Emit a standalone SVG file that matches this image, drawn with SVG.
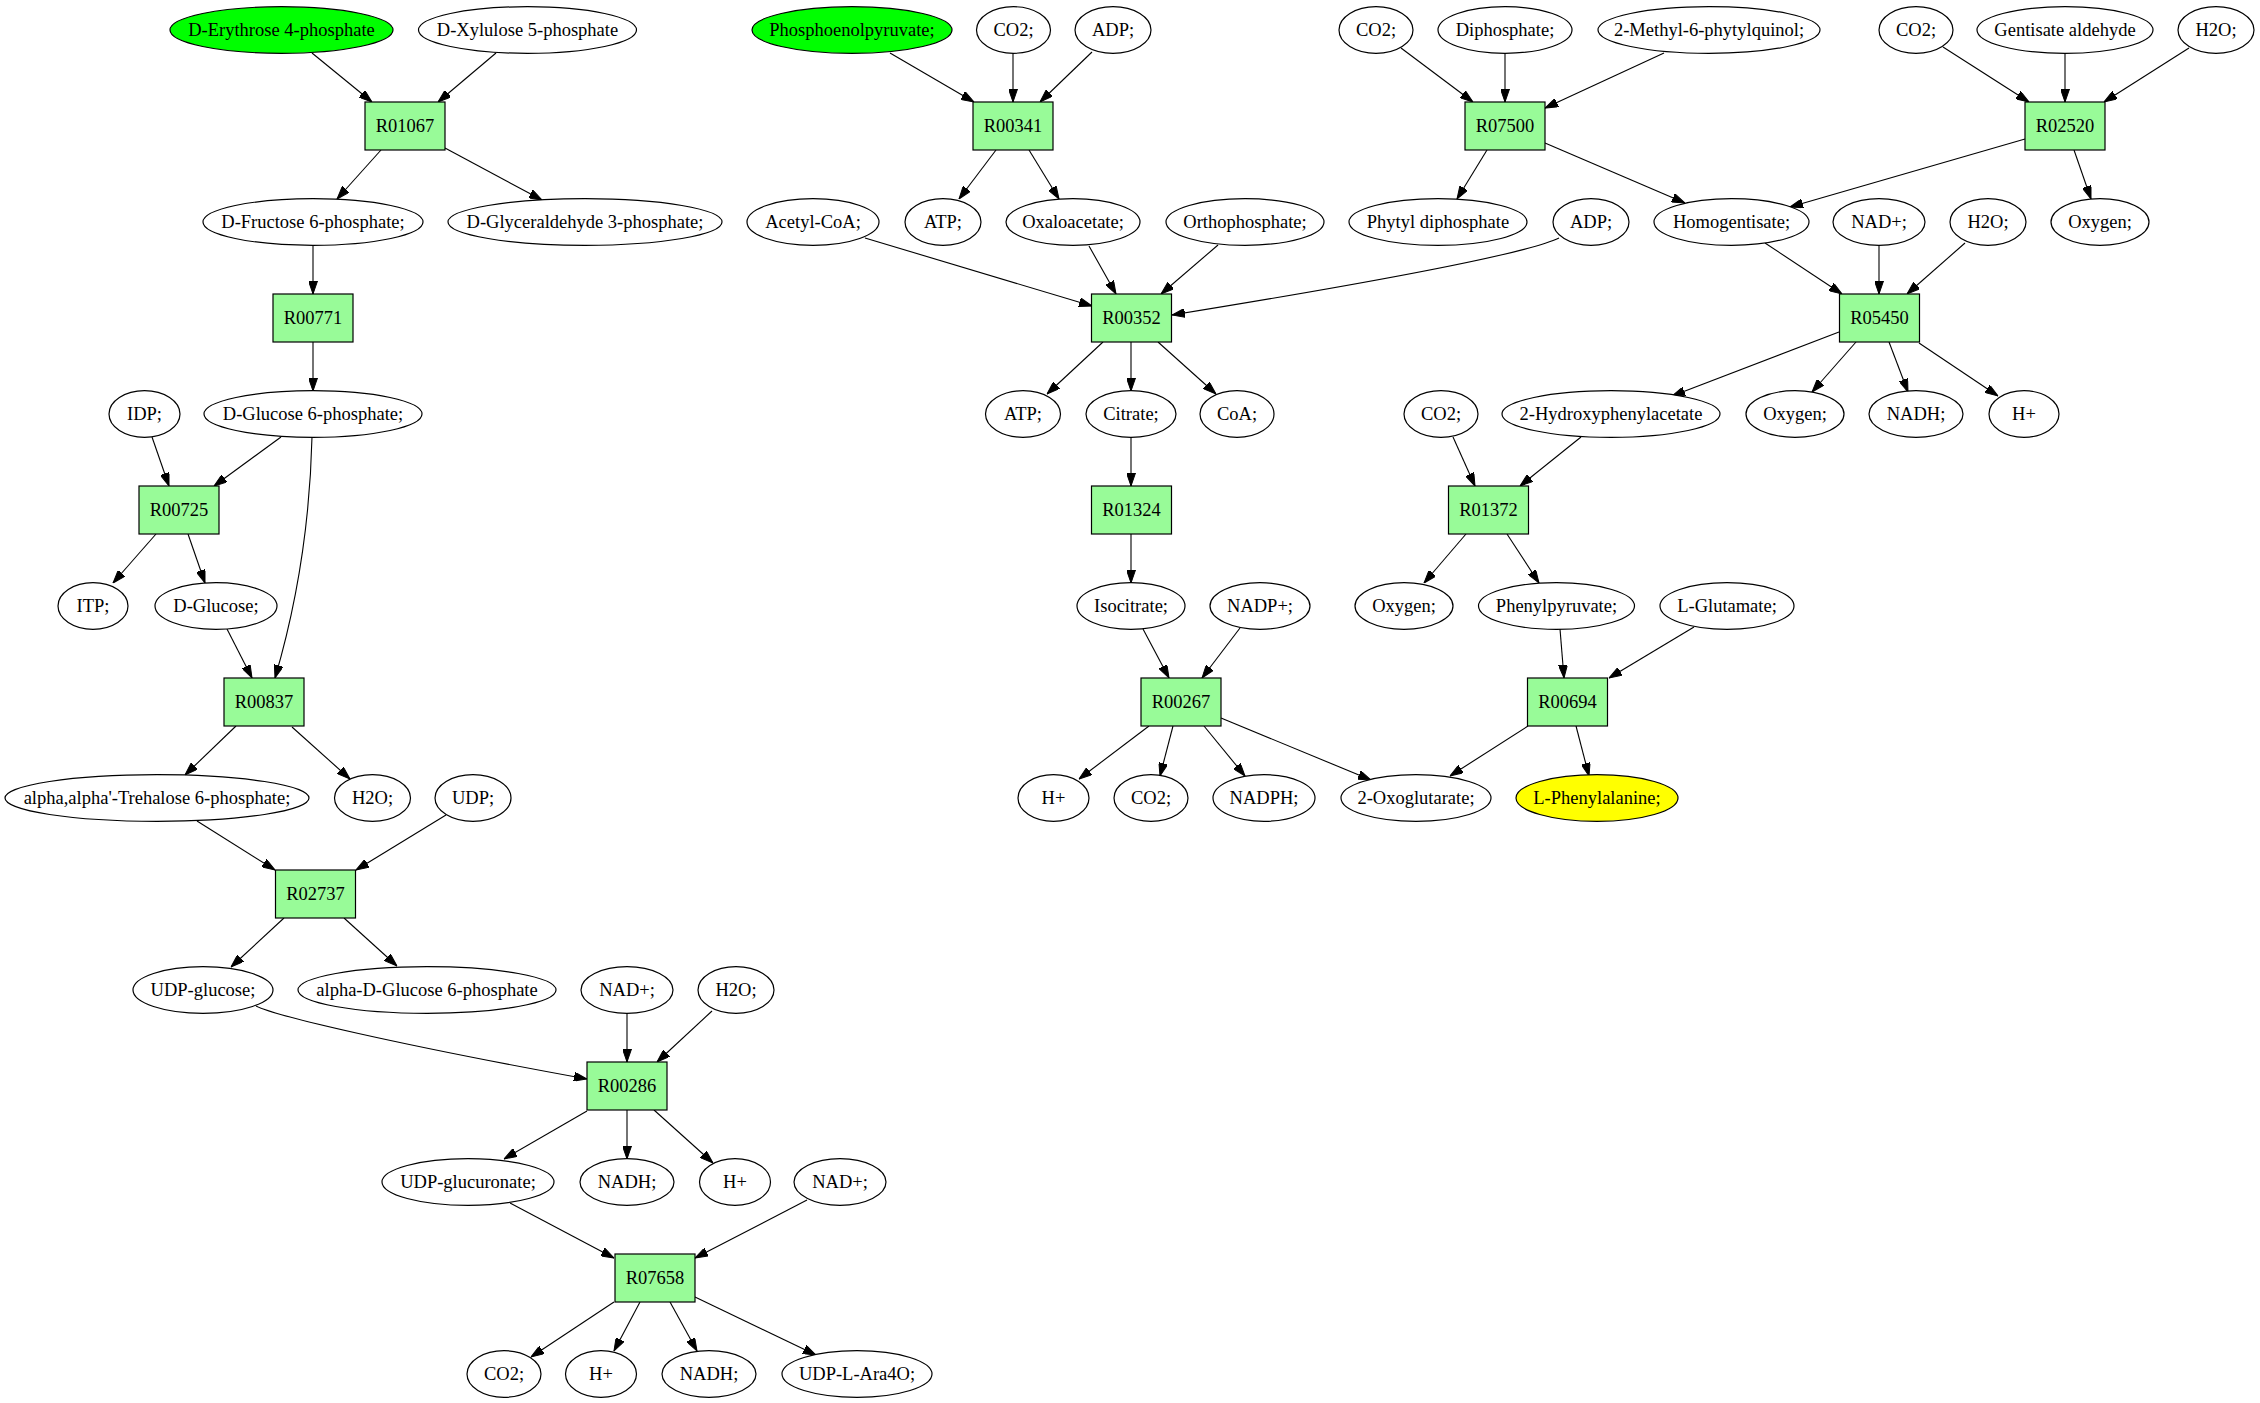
<svg xmlns="http://www.w3.org/2000/svg" width="2260" height="1403" viewBox="0 0 2260 1403">
<style>
.bg{fill:#ffffff}
.el{fill:#ffffff;stroke:#000000;stroke-width:1.2}
.src{fill:#00ff00}
.dst{fill:#ffff00}
.rx{fill:#98fb98;stroke:#000000;stroke-width:1.2}
.t{font-family:"Liberation Serif","Times New Roman",serif;font-size:18.5px;text-anchor:middle;fill:#000000}
.e{fill:none;stroke:#000000;stroke-width:1.1;marker-end:url(#ah)}
</style>
<defs>
<marker id="ah" markerUnits="userSpaceOnUse" viewBox="0 0 13 9" refX="13" refY="4.5" markerWidth="13" markerHeight="9" orient="auto">
<path d="M0,0 L13,4.5 L0,9 z" fill="#000000" stroke="#000000" stroke-width="1"/>
</marker>
</defs>
<rect class="bg" x="0" y="0" width="2260" height="1403"/>
<g id="edges">
<path class="e" d="M312,53 L372,102"/>
<path class="e" d="M496,53 L438,102"/>
<path class="e" d="M381,150 L337,199"/>
<path class="e" d="M445,148 L542,200"/>
<path class="e" d="M313,246 L313,294"/>
<path class="e" d="M313,342 L313,391"/>
<path class="e" d="M152,437 L169,486"/>
<path class="e" d="M281,437 L214,486"/>
<path class="e" d="M156,534 L113,583"/>
<path class="e" d="M188,534 L205,583"/>
<path class="e" d="M227,629 L252,678"/>
<path class="e" d="M312,437 C310,520 298,600 275,678"/>
<path class="e" d="M236,726 L185,775"/>
<path class="e" d="M292,727 L350,779"/>
<path class="e" d="M197,821 L275,870"/>
<path class="e" d="M446,815 L356,870"/>
<path class="e" d="M284,918 L231,967"/>
<path class="e" d="M344,918 L397,966"/>
<path class="e" d="M256,1006 C275,1016 400,1045 587,1079"/>
<path class="e" d="M627,1013 L627,1062"/>
<path class="e" d="M712,1011 L657,1062"/>
<path class="e" d="M587,1111 L504,1159"/>
<path class="e" d="M627,1110 L627,1159"/>
<path class="e" d="M654,1110 L713,1163"/>
<path class="e" d="M510,1203 L614,1258"/>
<path class="e" d="M807,1200 L695,1258"/>
<path class="e" d="M614,1302 L531,1357"/>
<path class="e" d="M640,1302 L614,1351"/>
<path class="e" d="M670,1302 L697,1351"/>
<path class="e" d="M695,1297 L816,1355"/>
<path class="e" d="M890,53 L974,102"/>
<path class="e" d="M1013,53 L1013,102"/>
<path class="e" d="M1092,52 L1040,102"/>
<path class="e" d="M996,150 L959,199"/>
<path class="e" d="M1029,150 L1059,199"/>
<path class="e" d="M865,238 L1092,306"/>
<path class="e" d="M1089,246 L1116,294"/>
<path class="e" d="M1218,245 L1161,294"/>
<path class="e" d="M1559,238 C1530,252 1400,278 1172,315"/>
<path class="e" d="M1103,342 L1047,394"/>
<path class="e" d="M1131,342 L1131,391"/>
<path class="e" d="M1158,342 L1216,394"/>
<path class="e" d="M1131,437 L1131,486"/>
<path class="e" d="M1131,534 L1131,583"/>
<path class="e" d="M1143,629 L1169,678"/>
<path class="e" d="M1240,628 L1202,678"/>
<path class="e" d="M1149,726 L1079,779"/>
<path class="e" d="M1173,726 L1160,776"/>
<path class="e" d="M1204,726 L1245,776"/>
<path class="e" d="M1221,718 L1371,780"/>
<path class="e" d="M1401,48 L1473,102"/>
<path class="e" d="M1505,53 L1505,102"/>
<path class="e" d="M1664,53 L1545,108"/>
<path class="e" d="M1487,150 L1457,199"/>
<path class="e" d="M1545,143 L1685,203"/>
<path class="e" d="M1943,47 L2029,102"/>
<path class="e" d="M2065,53 L2065,102"/>
<path class="e" d="M2189,48 L2104,102"/>
<path class="e" d="M2025,139 L1790,207"/>
<path class="e" d="M2074,150 L2091,199"/>
<path class="e" d="M1765,243 L1842,294"/>
<path class="e" d="M1879,246 L1879,294"/>
<path class="e" d="M1965,243 L1907,294"/>
<path class="e" d="M1839,332 L1672,396"/>
<path class="e" d="M1856,342 L1812,392"/>
<path class="e" d="M1889,342 L1908,392"/>
<path class="e" d="M1919,343 L1998,396"/>
<path class="e" d="M1453,437 L1475,486"/>
<path class="e" d="M1581,437 L1520,486"/>
<path class="e" d="M1466,534 L1424,583"/>
<path class="e" d="M1507,534 L1539,583"/>
<path class="e" d="M1560,629 L1564,678"/>
<path class="e" d="M1694,627 L1609,678"/>
<path class="e" d="M1528,726 L1450,776"/>
<path class="e" d="M1576,726 L1589,776"/>
</g>
<!-- row 0 -->
<g id="n_erythrose4p"><ellipse class="el src" cx="281.5" cy="30" rx="111.5" ry="23.3"/><text class="t" x="281.5" y="36">D-Erythrose 4-phosphate</text></g>
<g id="n_xylulose5p"><ellipse class="el" cx="527.5" cy="30" rx="109" ry="23.3"/><text class="t" x="527.5" y="36">D-Xylulose 5-phosphate</text></g>
<g id="n_pep"><ellipse class="el src" cx="852" cy="30" rx="100" ry="23.3"/><text class="t" x="852" y="36">Phosphoenolpyruvate;</text></g>
<g id="n_co2_a"><ellipse class="el" cx="1013.5" cy="30" rx="37" ry="23.3"/><text class="t" x="1013.5" y="36">CO2;</text></g>
<g id="n_adp_a"><ellipse class="el" cx="1113" cy="30" rx="38" ry="23.3"/><text class="t" x="1113" y="36">ADP;</text></g>
<g id="n_co2_b"><ellipse class="el" cx="1376" cy="30" rx="37" ry="23.3"/><text class="t" x="1376" y="36">CO2;</text></g>
<g id="n_diphosphate"><ellipse class="el" cx="1505" cy="30" rx="67" ry="23.3"/><text class="t" x="1505" y="36">Diphosphate;</text></g>
<g id="n_methylphytylquinol"><ellipse class="el" cx="1709" cy="30" rx="111" ry="23.3"/><text class="t" x="1709" y="36">2-Methyl-6-phytylquinol;</text></g>
<g id="n_co2_c"><ellipse class="el" cx="1916" cy="30" rx="37" ry="23.3"/><text class="t" x="1916" y="36">CO2;</text></g>
<g id="n_gentisatealdehyde"><ellipse class="el" cx="2065" cy="30" rx="88" ry="23.3"/><text class="t" x="2065" y="36">Gentisate aldehyde</text></g>
<g id="n_h2o_a"><ellipse class="el" cx="2216" cy="30" rx="38" ry="23.3"/><text class="t" x="2216" y="36">H2O;</text></g>
<!-- row 1 -->
<g id="r_R01067"><rect class="rx" x="365" y="102" width="80" height="48"/><text class="t" x="405" y="132">R01067</text></g>
<g id="r_R00341"><rect class="rx" x="973" y="102" width="80" height="48"/><text class="t" x="1013" y="132">R00341</text></g>
<g id="r_R07500"><rect class="rx" x="1465" y="102" width="80" height="48"/><text class="t" x="1505" y="132">R07500</text></g>
<g id="r_R02520"><rect class="rx" x="2025" y="102" width="80" height="48"/><text class="t" x="2065" y="132">R02520</text></g>
<!-- row 2 -->
<g id="n_fructose6p"><ellipse class="el" cx="313" cy="222" rx="110" ry="23.3"/><text class="t" x="313" y="228">D-Fructose 6-phosphate;</text></g>
<g id="n_glyceraldehyde3p"><ellipse class="el" cx="585" cy="222" rx="137" ry="23.3"/><text class="t" x="585" y="228">D-Glyceraldehyde 3-phosphate;</text></g>
<g id="n_acetylcoa"><ellipse class="el" cx="813" cy="222" rx="66" ry="23.3"/><text class="t" x="813" y="228">Acetyl-CoA;</text></g>
<g id="n_atp_a"><ellipse class="el" cx="943" cy="222" rx="38" ry="23.3"/><text class="t" x="943" y="228">ATP;</text></g>
<g id="n_oxaloacetate"><ellipse class="el" cx="1073" cy="222" rx="67" ry="23.3"/><text class="t" x="1073" y="228">Oxaloacetate;</text></g>
<g id="n_orthophosphate"><ellipse class="el" cx="1245" cy="222" rx="79" ry="23.3"/><text class="t" x="1245" y="228">Orthophosphate;</text></g>
<g id="n_phytyldiphosphate"><ellipse class="el" cx="1438" cy="222" rx="89" ry="23.3"/><text class="t" x="1438" y="228">Phytyl diphosphate</text></g>
<g id="n_adp_b"><ellipse class="el" cx="1591" cy="222" rx="38" ry="23.3"/><text class="t" x="1591" y="228">ADP;</text></g>
<g id="n_homogentisate"><ellipse class="el" cx="1731.5" cy="222" rx="77.5" ry="23.3"/><text class="t" x="1731.5" y="228">Homogentisate;</text></g>
<g id="n_nad_a"><ellipse class="el" cx="1879" cy="222" rx="46" ry="23.3"/><text class="t" x="1879" y="228">NAD+;</text></g>
<g id="n_h2o_b"><ellipse class="el" cx="1988" cy="222" rx="38" ry="23.3"/><text class="t" x="1988" y="228">H2O;</text></g>
<g id="n_oxygen_a"><ellipse class="el" cx="2100" cy="222" rx="49" ry="23.3"/><text class="t" x="2100" y="228">Oxygen;</text></g>
<!-- row 3 -->
<g id="r_R00771"><rect class="rx" x="273" y="294" width="80" height="48"/><text class="t" x="313" y="324">R00771</text></g>
<g id="r_R00352"><rect class="rx" x="1091.5" y="294" width="80" height="48"/><text class="t" x="1131.5" y="324">R00352</text></g>
<g id="r_R05450"><rect class="rx" x="1839.5" y="294" width="80" height="48"/><text class="t" x="1879.5" y="324">R05450</text></g>
<!-- row 4 -->
<g id="n_idp"><ellipse class="el" cx="144.5" cy="414" rx="35.5" ry="23.3"/><text class="t" x="144.5" y="420">IDP;</text></g>
<g id="n_glucose6p"><ellipse class="el" cx="313" cy="414" rx="109" ry="23.3"/><text class="t" x="313" y="420">D-Glucose 6-phosphate;</text></g>
<g id="n_atp_b"><ellipse class="el" cx="1023" cy="414" rx="37.5" ry="23.3"/><text class="t" x="1023" y="420">ATP;</text></g>
<g id="n_citrate"><ellipse class="el" cx="1131" cy="414" rx="45" ry="23.3"/><text class="t" x="1131" y="420">Citrate;</text></g>
<g id="n_coa"><ellipse class="el" cx="1237" cy="414" rx="37" ry="23.3"/><text class="t" x="1237" y="420">CoA;</text></g>
<g id="n_co2_d"><ellipse class="el" cx="1441" cy="414" rx="37" ry="23.3"/><text class="t" x="1441" y="420">CO2;</text></g>
<g id="n_hydroxyphenylacetate"><ellipse class="el" cx="1611" cy="414" rx="109" ry="23.3"/><text class="t" x="1611" y="420">2-Hydroxyphenylacetate</text></g>
<g id="n_oxygen_b"><ellipse class="el" cx="1795" cy="414" rx="49" ry="23.3"/><text class="t" x="1795" y="420">Oxygen;</text></g>
<g id="n_nadh_a"><ellipse class="el" cx="1916" cy="414" rx="47" ry="23.3"/><text class="t" x="1916" y="420">NADH;</text></g>
<g id="n_h_a"><ellipse class="el" cx="2024" cy="414" rx="35" ry="23.3"/><text class="t" x="2024" y="420">H+</text></g>
<!-- row 5 -->
<g id="r_R00725"><rect class="rx" x="139" y="486" width="80" height="48"/><text class="t" x="179" y="516">R00725</text></g>
<g id="r_R01324"><rect class="rx" x="1091.5" y="486" width="80" height="48"/><text class="t" x="1131.5" y="516">R01324</text></g>
<g id="r_R01372"><rect class="rx" x="1448.5" y="486" width="80" height="48"/><text class="t" x="1488.5" y="516">R01372</text></g>
<!-- row 6 -->
<g id="n_itp"><ellipse class="el" cx="93" cy="606" rx="35" ry="23.3"/><text class="t" x="93" y="612">ITP;</text></g>
<g id="n_glucose"><ellipse class="el" cx="216" cy="606" rx="61" ry="23.3"/><text class="t" x="216" y="612">D-Glucose;</text></g>
<g id="n_isocitrate"><ellipse class="el" cx="1131" cy="606" rx="54" ry="23.3"/><text class="t" x="1131" y="612">Isocitrate;</text></g>
<g id="n_nadp"><ellipse class="el" cx="1260" cy="606" rx="50" ry="23.3"/><text class="t" x="1260" y="612">NADP+;</text></g>
<g id="n_oxygen_c"><ellipse class="el" cx="1404" cy="606" rx="49" ry="23.3"/><text class="t" x="1404" y="612">Oxygen;</text></g>
<g id="n_phenylpyruvate"><ellipse class="el" cx="1556.5" cy="606" rx="78" ry="23.3"/><text class="t" x="1556.5" y="612">Phenylpyruvate;</text></g>
<g id="n_glutamate"><ellipse class="el" cx="1727" cy="606" rx="67" ry="23.3"/><text class="t" x="1727" y="612">L-Glutamate;</text></g>
<!-- row 7 -->
<g id="r_R00837"><rect class="rx" x="224" y="678" width="80" height="48"/><text class="t" x="264" y="708">R00837</text></g>
<g id="r_R00267"><rect class="rx" x="1141" y="678" width="80" height="48"/><text class="t" x="1181" y="708">R00267</text></g>
<g id="r_R00694"><rect class="rx" x="1527.5" y="678" width="80" height="48"/><text class="t" x="1567.5" y="708">R00694</text></g>
<!-- row 8 -->
<g id="n_trehalose6p"><ellipse class="el" cx="157" cy="798" rx="152" ry="23.3"/><text class="t" x="157" y="804">alpha,alpha'-Trehalose 6-phosphate;</text></g>
<g id="n_h2o_c"><ellipse class="el" cx="372.5" cy="798" rx="38" ry="23.3"/><text class="t" x="372.5" y="804">H2O;</text></g>
<g id="n_udp"><ellipse class="el" cx="473" cy="798" rx="38" ry="23.3"/><text class="t" x="473" y="804">UDP;</text></g>
<g id="n_h_b"><ellipse class="el" cx="1053.5" cy="798" rx="35.5" ry="23.3"/><text class="t" x="1053.5" y="804">H+</text></g>
<g id="n_co2_e"><ellipse class="el" cx="1151" cy="798" rx="37" ry="23.3"/><text class="t" x="1151" y="804">CO2;</text></g>
<g id="n_nadph"><ellipse class="el" cx="1264" cy="798" rx="51" ry="23.3"/><text class="t" x="1264" y="804">NADPH;</text></g>
<g id="n_oxoglutarate"><ellipse class="el" cx="1416" cy="798" rx="75" ry="23.3"/><text class="t" x="1416" y="804">2-Oxoglutarate;</text></g>
<g id="n_phenylalanine"><ellipse class="el dst" cx="1597" cy="798" rx="81" ry="23.3"/><text class="t" x="1597" y="804">L-Phenylalanine;</text></g>
<!-- row 9 -->
<g id="r_R02737"><rect class="rx" x="275.5" y="870" width="80" height="48"/><text class="t" x="315.5" y="900">R02737</text></g>
<!-- row 10 -->
<g id="n_udpglucose"><ellipse class="el" cx="203" cy="990" rx="70" ry="23.3"/><text class="t" x="203" y="996">UDP-glucose;</text></g>
<g id="n_alphaglucose6p"><ellipse class="el" cx="427" cy="990" rx="129" ry="23.3"/><text class="t" x="427" y="996">alpha-D-Glucose 6-phosphate</text></g>
<g id="n_nad_b"><ellipse class="el" cx="627" cy="990" rx="46" ry="23.3"/><text class="t" x="627" y="996">NAD+;</text></g>
<g id="n_h2o_d"><ellipse class="el" cx="736" cy="990" rx="38" ry="23.3"/><text class="t" x="736" y="996">H2O;</text></g>
<!-- row 11 -->
<g id="r_R00286"><rect class="rx" x="587" y="1062" width="80" height="48"/><text class="t" x="627" y="1092">R00286</text></g>
<!-- row 12 -->
<g id="n_udpglucuronate"><ellipse class="el" cx="468" cy="1182" rx="86" ry="23.3"/><text class="t" x="468" y="1188">UDP-glucuronate;</text></g>
<g id="n_nadh_b"><ellipse class="el" cx="627" cy="1182" rx="47" ry="23.3"/><text class="t" x="627" y="1188">NADH;</text></g>
<g id="n_h_c"><ellipse class="el" cx="735" cy="1182" rx="35.5" ry="23.3"/><text class="t" x="735" y="1188">H+</text></g>
<g id="n_nad_c"><ellipse class="el" cx="840" cy="1182" rx="46" ry="23.3"/><text class="t" x="840" y="1188">NAD+;</text></g>
<!-- row 13 -->
<g id="r_R07658"><rect class="rx" x="615" y="1254" width="80" height="48"/><text class="t" x="655" y="1284">R07658</text></g>
<!-- row 14 -->
<g id="n_co2_f"><ellipse class="el" cx="504" cy="1374" rx="37" ry="23.3"/><text class="t" x="504" y="1380">CO2;</text></g>
<g id="n_h_d"><ellipse class="el" cx="601" cy="1374" rx="35.5" ry="23.3"/><text class="t" x="601" y="1380">H+</text></g>
<g id="n_nadh_c"><ellipse class="el" cx="709" cy="1374" rx="47" ry="23.3"/><text class="t" x="709" y="1380">NADH;</text></g>
<g id="n_udparabinose"><ellipse class="el" cx="857" cy="1374" rx="75" ry="23.3"/><text class="t" x="857" y="1380">UDP-L-Ara4O;</text></g>
</svg>
